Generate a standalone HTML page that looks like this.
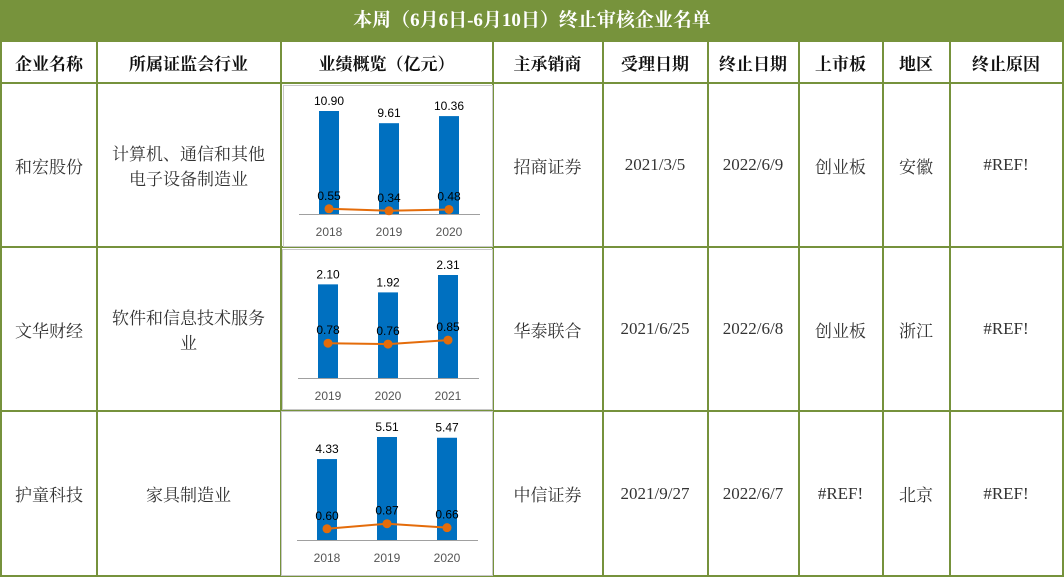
<!DOCTYPE html>
<html><head><meta charset="utf-8">
<style>
body{margin:0;width:1064px;height:578px;background:#fff;position:relative;overflow:hidden;font-family:"Liberation Serif","Noto Serif CJK SC","Noto Sans CJK SC",serif;}
.t{position:absolute;left:0;top:0;width:1064px;height:42px;background:#77933C;color:#fff;font-family:"Liberation Serif","Noto Serif CJK SC",serif;font-size:19px;font-weight:bold;text-align:center;line-height:42px;}
.c{position:absolute;box-sizing:border-box;display:flex;align-items:center;justify-content:center;text-align:center;font-size:17px;color:#333;border-right:2px solid #76923C;border-bottom:2px solid #76923C;}
.h{font-family:"Liberation Serif","Noto Serif CJK SC",serif;font-weight:bold;font-size:17px;color:#111;}
.ch{position:absolute;border:1px solid #c8c8c8;background:#fff;box-sizing:border-box;}
svg text{font-family:"Liberation Sans","DejaVu Sans",sans-serif;}
</style></head><body>
<div class="t">本周（6月6日-6月10日）终止审核企业名单</div>
<div id="grid"></div>
<div class="ch" id="ch0" style="left:283px;top:85px;width:210px;height:162px"></div>
<div class="ch" id="ch1" style="left:282px;top:249px;width:211px;height:161px"></div>
<div class="ch" id="ch2" style="left:281px;top:411px;width:212px;height:165px"></div>
<script>
const colX=[0,98,282,494,604,709,800,884,951,1064];
const rowY=[42,84,248,412,577];
const headers=["企业名称","所属证监会行业","业绩概览（亿元）","主承销商","受理日期","终止日期","上市板","地区","终止原因"];
const rows=[
["和宏股份","计算机、通信和其他<br>电子设备制造业","","招商证券","2021/3/5","2022/6/9","创业板","安徽","#REF!"],
["文华财经","软件和信息技术服务<br>业","","华泰联合","2021/6/25","2022/6/8","创业板","浙江","#REF!"],
["护童科技","家具制造业","","中信证券","2021/9/27","2022/6/7","#REF!","北京","#REF!"]];
const g=document.getElementById('grid');
function cell(r,c,html,cls){
 const d=document.createElement('div');
 d.className='c'+(cls?' '+cls:'');
 d.style.left=(colX[c]-(c==0?0:1))+'px';d.style.top=rowY[r]+'px';
 d.style.width=(colX[c+1]-colX[c]+(c==0?0:1))+'px';d.style.height=(rowY[r+1]-rowY[r])+'px';
 if(c==0)d.style.borderLeft='2px solid #76923C';
 d.innerHTML=html;
 
 
 g.appendChild(d);
}
headers.forEach((h,i)=>cell(0,i,h,'h'));
rows.forEach((rw,ri)=>rw.forEach((v,ci)=>cell(ri+1,ci,v)));

const years=[["2018","2019","2020"],["2019","2020","2021"],["2018","2019","2020"]];
const revenue=[[10.90,9.61,10.36],[2.10,1.92,2.31],[4.33,5.51,5.47]];
const profit=[[0.55,0.34,0.48],[0.78,0.76,0.85],[0.60,0.87,0.66]];
const NS='http://www.w3.org/2000/svg';
function mk(tag,attrs,parent){const e=document.createElementNS(NS,tag);for(const k in attrs)e.setAttribute(k,attrs[k]);parent.appendChild(e);return e;}
for(let k=0;k<3;k++){
 const box=document.getElementById('ch'+k);
 const svg=mk('svg',{width:box.clientWidth,height:box.clientHeight},box);
 const base=128, top=103;
 const maxV=Math.max(...revenue[k]);
 const y=v=>base-v/maxV*top;
 const x=i=>45+i*60;
 const ax=mk('line',{x1:15,x2:196,y1:base+0.5,y2:base+0.5,stroke:'#a0a0a0','stroke-width':1},svg);
 
 revenue[k].forEach((v,i)=>{
  const b=mk('rect',{x:x(i)-10,y:y(v),width:20,height:base-y(v),fill:'#0070C0'},svg);
  
  const t=mk('text',{x:x(i),y:y(v)-6,'text-anchor':'middle','font-size':12,fill:'#000'},svg);t.textContent=v.toFixed(2);
  
  const yl=mk('text',{x:x(i),y:base+22,'text-anchor':'middle','font-size':12,fill:'#555'},svg);yl.textContent=years[k][i];
  
 });
 const pts=profit[k].map((v,i)=>x(i)+','+y(v)).join(' ');
 const pl=mk('polyline',{points:pts,fill:'none',stroke:'#E46C0A','stroke-width':2},svg);
 
 profit[k].forEach((v,i)=>{
  const c=mk('circle',{cx:x(i),cy:y(v),r:4.5,fill:'#E46C0A'},svg);
  
  const t=mk('text',{x:x(i),y:y(v)-9,'text-anchor':'middle','font-size':12,fill:'#000'},svg);t.textContent=v.toFixed(2);
  
 });
}
</script>
</body></html>
